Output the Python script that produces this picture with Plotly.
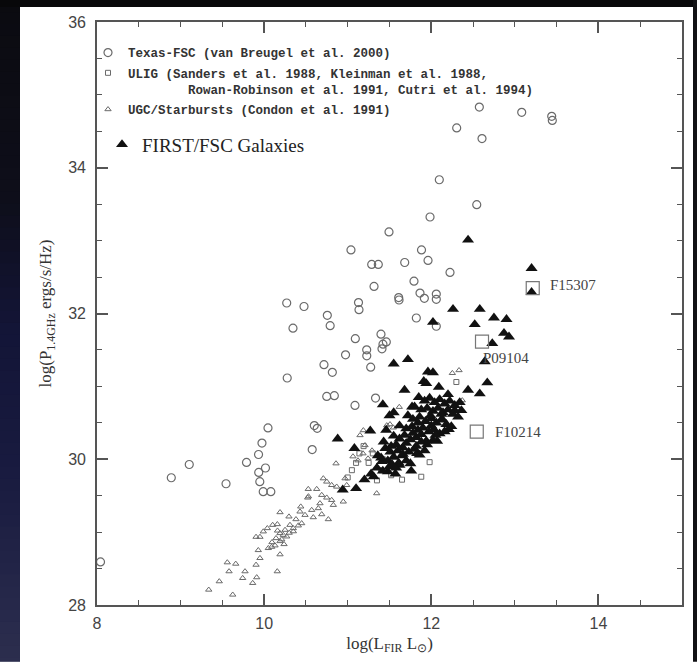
import plotly.graph_objects as go

# ---------------- data ----------------
texas_x = [12.575, 13.082, 13.441, 13.448, 12.304, 12.607, 12.096, 12.544, 11.985, 11.494,
           11.039, 11.883, 11.287, 11.366, 11.682, 11.961, 12.224, 11.793, 11.315, 11.610,
           11.614, 11.865, 11.917, 12.060, 12.060, 10.270, 10.477, 11.129, 11.135, 10.756,
           10.790, 10.345, 11.821, 12.060, 11.091, 11.398, 11.462, 11.422, 11.410, 11.227,
           11.228, 10.974, 11.275, 10.716, 10.816, 10.276, 10.749, 10.840, 11.087, 11.333,
           10.046, 10.600, 10.635, 9.974, 9.933, 10.575, 9.789, 10.016, 9.104, 8.889,
           9.544, 9.935, 9.948, 9.989, 10.080, 8.042]
texas_y = [34.833, 34.760, 34.705, 34.650, 34.546, 34.400, 33.835, 33.493, 33.324, 33.119,
           32.873, 32.873, 32.673, 32.673, 32.700, 32.728, 32.563, 32.444, 32.372, 32.219,
           32.185, 32.280, 32.208, 32.267, 32.194, 32.144, 32.096, 32.150, 32.052, 31.975,
           31.833, 31.798, 31.938, 31.825, 31.655, 31.716, 31.610, 31.579, 31.515, 31.501,
           31.419, 31.433, 31.264, 31.298, 31.193, 31.115, 30.862, 30.872, 30.739, 30.840,
           30.430, 30.462, 30.425, 30.222, 30.065, 30.133, 29.956, 29.880, 29.928, 29.746,
           29.664, 29.819, 29.692, 29.555, 29.555, 28.591]

ulig_x = [12.30, 11.98, 11.88, 11.65, 11.35, 11.19, 11.30, 11.42, 11.14, 11.25,
          11.05, 11.52, 11.10, 11.40, 11.00]
ulig_y = [31.06, 29.96, 29.76, 29.72, 29.71, 30.18, 30.08, 30.00, 30.08, 29.95,
          29.85, 29.78, 29.95, 29.85, 29.75]

ugc_x = [12.252, 12.332, 12.371, 11.617, 11.506, 11.546, 11.187, 11.347, 10.947, 10.860,
         10.768, 10.689, 10.588, 10.528, 10.629, 10.521, 10.530, 10.708, 10.749, 10.808,
         10.868, 10.968, 10.988, 10.689, 10.749, 10.808, 10.828, 10.668, 10.648, 10.569,
         10.438, 10.429, 10.489, 10.190, 10.297, 10.381, 10.449, 10.409, 10.349, 10.309,
         10.158, 10.102, 10.038, 9.990, 9.903, 9.950, 10.190, 10.229, 10.270, 10.142,
         10.190, 10.238, 10.094, 10.050, 10.090, 10.130, 10.190, 9.930, 9.950, 9.903,
         9.559, 9.660, 9.580, 9.771, 9.743, 9.911, 9.863, 9.463, 10.157, 9.337,
         9.624, 11.063, 11.123, 11.183, 11.243, 11.291, 11.147, 11.207, 11.467, 10.210,
         10.160, 10.250, 10.300, 10.350]
ugc_y = [31.182, 31.221, 30.808, 30.717, 30.479, 30.434, 30.397, 29.532, 29.418, 29.942,
         29.176, 29.244, 29.203, 29.591, 29.591, 29.473, 29.490, 29.737, 29.692, 29.645,
         29.623, 29.737, 29.645, 29.509, 29.473, 29.440, 29.372, 29.395, 29.327, 29.303,
         29.350, 29.281, 29.235, 29.272, 29.213, 29.176, 29.121, 29.090, 29.053, 29.098,
         29.108, 29.098, 29.053, 29.008, 28.934, 28.934, 28.985, 28.961, 28.939, 28.916,
         28.875, 28.834, 28.861, 28.780, 28.797, 28.816, 28.694, 28.752, 28.643, 28.551,
         28.584, 28.565, 28.461, 28.461, 28.369, 28.379, 28.301, 28.324, 28.461, 28.209,
         28.141, 30.038, 29.983, 30.079, 30.010, 30.120, 30.329, 30.192, 30.465, 28.900,
         29.020, 29.030, 28.990, 29.010]

first_x = [12.44, 13.20, 13.20, 12.26, 12.58, 12.75, 12.90, 12.02, 12.52, 12.87,
           12.93, 12.73, 12.64, 11.55, 11.72, 11.96, 12.02, 11.91, 11.94, 12.09,
           12.44, 12.58, 12.67, 11.68, 12.20, 11.42, 11.77, 12.36, 12.28, 11.50,
           11.55, 11.27, 11.08, 10.88, 11.31, 11.48, 11.41, 11.51, 11.10, 10.94,
           11.75, 11.83, 11.76, 11.61, 12.07, 11.94, 12.21, 11.43,
           11.85, 11.92, 11.98, 12.04, 12.10, 12.16, 12.22, 12.28, 12.34,
           11.80, 11.88, 11.95, 12.02, 12.08, 12.14, 12.20, 12.26, 12.32,
           11.72, 11.78, 11.86, 11.93, 12.00, 12.06, 12.12, 12.18, 12.24,
           11.62, 11.70, 11.77, 11.84, 11.90, 11.97, 12.03, 12.10, 12.16,
           11.55, 11.62, 11.68, 11.75, 11.82, 11.88, 11.95, 12.02,
           11.45, 11.52, 11.60, 11.66, 11.73, 11.80, 11.86,
           11.40, 11.48, 11.55, 11.62, 11.70,
           11.35, 11.42, 11.50, 11.57, 11.28, 11.20,
           11.65, 11.58, 11.92, 12.05, 11.99, 12.13, 11.36, 11.46,
           11.70, 11.78, 11.84, 11.66, 11.58, 11.88, 12.00, 12.12, 11.82, 11.53]
first_y = [33.01, 32.62, 32.29, 32.06, 32.06, 31.94, 31.92, 31.88, 31.85, 31.73,
           31.68, 31.59, 31.34, 31.31, 31.37, 31.20, 31.19, 31.07, 31.04, 30.99,
           30.95, 30.90, 31.05, 30.95, 30.89, 30.75, 30.72, 30.67, 30.67, 30.60,
           30.64, 30.39, 30.15, 30.28, 29.76, 29.83, 29.97, 30.10, 29.60, 29.58,
           29.94, 30.08, 29.84, 29.95, 30.25, 30.25, 30.41, 30.24,
           30.85, 30.80, 30.84, 30.78, 30.82, 30.76, 30.80, 30.74, 30.78,
           30.72, 30.68, 30.70, 30.66, 30.70, 30.64, 30.68, 30.62, 30.58,
           30.60, 30.55, 30.58, 30.52, 30.56, 30.50, 30.54, 30.48, 30.45,
           30.46, 30.42, 30.45, 30.40, 30.43, 30.38, 30.41, 30.35, 30.38,
           30.32, 30.28, 30.33, 30.27, 30.30, 30.24, 30.20, 30.26,
           30.15, 30.18, 30.12, 30.16, 30.10, 30.14, 30.06,
           30.02, 29.98, 30.03, 29.92, 29.98,
           29.88, 29.84, 29.90, 29.80, 29.80, 29.72,
           30.05, 29.88, 30.12, 30.33, 30.60, 30.55, 30.05, 30.40,
           30.22, 30.36, 30.50, 30.07, 30.20, 30.34, 30.46, 30.62, 30.18, 29.93]

special_names = ["F15307", "P09104", "F10214"]
special_x = [13.214, 12.607, 12.544]
special_y = [32.349, 31.614, 30.380]

x_ticks = [8, 10, 12, 14]
y_ticks = [28, 30, 32, 34, 36]

# ---------------- figure ----------------
W, H = 697, 662
ML, MR, MT, MB = 97, 15, 22, 55
PW, PH = W - ML - MR, H - MT - MB

def px_x(px):
    return (px - ML) / PW

def px_y(py):
    return (H - MB - py) / PH

gray = "#6a6a6a"
fig = go.Figure()

fig.add_trace(go.Scatter(
    x=texas_x, y=texas_y, mode="markers", name="Texas-FSC (van Breugel et al. 2000)",
    marker=dict(symbol="circle-open", size=8, color=gray, line=dict(width=1.2, color=gray)),
    legend="legend", legendgroup="a"))
fig.add_trace(go.Scatter(
    x=ulig_x, y=ulig_y, mode="markers",
    name="ULIG (Sanders et al. 1988, Kleinman et al. 1988,<br>" + "\u00a0" * 8 +
         "Rowan-Robinson et al. 1991, Cutri et al. 1994)",
    marker=dict(symbol="square-open", size=5, color=gray, line=dict(width=1, color=gray)),
    legend="legend", legendgroup="b"))
fig.add_trace(go.Scatter(
    x=ugc_x, y=ugc_y, mode="markers", name="UGC/Starbursts (Condon et al. 1991)",
    marker=dict(symbol="triangle-up-open", size=5.5, color=gray, line=dict(width=1, color=gray)),
    legend="legend", legendgroup="c"))
fig.add_trace(go.Scatter(
    x=first_x, y=first_y, mode="markers", name="FIRST/FSC Galaxies",
    marker=dict(symbol="triangle-up", size=10.5, color="#111111", line=dict(width=0)),
    legend="legend2"))
fig.add_trace(go.Scatter(
    x=special_x, y=special_y, mode="markers", showlegend=False,
    marker=dict(symbol="square-open", size=13, color="#777777", line=dict(width=1.2, color="#777777"))))

label_shift = [(15, 3, "left"), (-1, -16, "left"), (16, 0, "left")]
for name, sx, sy, (dx, dy, anc) in zip(special_names, special_x, special_y, label_shift):
    fig.add_annotation(x=sx, y=sy, text=name, showarrow=False, xanchor=anc, yanchor="middle",
                       xshift=dx, yshift=dy,
                       font=dict(family="Liberation Serif, Times New Roman, serif", size=15, color="#444444"))

# dark surroundings of the white page (left gradient strip, top and right strips)
stops = [(0, (11, 11, 16)), (200, (14, 14, 26)), (330, (19, 21, 55)),
         (480, (25, 27, 64)), (662, (44, 46, 78))]

def strip_color(py):
    for (a, ca), (b, cb) in zip(stops[:-1], stops[1:]):
        if a <= py <= b:
            t = (py - a) / (b - a)
            return "rgb(%d,%d,%d)" % tuple(round(ca[k] + (cb[k] - ca[k]) * t) for k in range(3))
    return "rgb(44,46,78)"

band = 12
for top in range(0, H, band):
    fig.add_shape(type="rect", xref="paper", yref="paper", x0=px_x(-2), x1=px_x(20),
                  y0=px_y(min(H + 2, top + band + 1)), y1=px_y(top),
                  fillcolor=strip_color(top + band / 2), line_width=0, layer="below")
fig.add_shape(type="rect", xref="paper", yref="paper", x0=px_x(-2), x1=px_x(W + 2),
              y0=px_y(7), y1=px_y(-2), fillcolor="#08080a", line_width=0, layer="below")
fig.add_shape(type="rect", xref="paper", yref="paper", x0=px_x(693), x1=px_x(W + 2),
              y0=px_y(H + 2), y1=px_y(0), fillcolor="#111114", line_width=0, layer="below")

axis_col = "#555555"
common = dict(showline=True, linecolor=axis_col, linewidth=1.6, mirror="ticks",
              ticks="inside", ticklen=11, tickwidth=1.5, tickcolor=axis_col,
              showgrid=False, zeroline=False,
              tickfont=dict(family="Liberation Sans, Arial, sans-serif", size=16, color="#444444"),
              minor=dict(ticks="inside", ticklen=5, tickwidth=1.3, tickcolor=axis_col, showgrid=False))

fig.update_xaxes(range=[8, 15], tickvals=x_ticks, ticktext=[str(v) for v in x_ticks],
                 minor_dtick=0.5, minor_tick0=8, ticklabelstandoff=3,
                 title=dict(text="log(L<sub>FIR</sub> L<sub>⊙</sub>)", standoff=6,
                            font=dict(family="Liberation Serif, Times New Roman, serif", size=17, color="#333333")),
                 **common)
fig.update_yaxes(range=[28, 36], tickvals=y_ticks, ticktext=[str(v) for v in y_ticks],
                 minor_dtick=0.5, minor_tick0=28, ticklabelstandoff=6,
                 title=dict(text="log(P<sub>1.4GHz</sub> ergs/s/Hz)", standoff=12,
                            font=dict(family="Liberation Serif, Times New Roman, serif", size=17, color="#333333")),
                 **common)

fig.update_layout(
    width=W, height=H,
    margin=dict(l=ML, r=MR, t=MT, b=MB, pad=0),
    paper_bgcolor="white", plot_bgcolor="white",
    showlegend=True,
    legend=dict(x=px_x(88), y=px_y(38), xanchor="left", yanchor="top",
                bgcolor="rgba(0,0,0,0)", borderwidth=0, valign="top", tracegroupgap=1,
                font=dict(family="Liberation Mono, Courier New, monospace", size=12.5,
                          color="#333333", weight="bold")),
    legend2=dict(x=px_x(102), y=px_y(126), xanchor="left", yanchor="top",
                 bgcolor="rgba(0,0,0,0)", borderwidth=0,
                 font=dict(family="Liberation Serif, Times New Roman, serif", size=19, color="#222222")),
)

fig.write_html("out.html")
